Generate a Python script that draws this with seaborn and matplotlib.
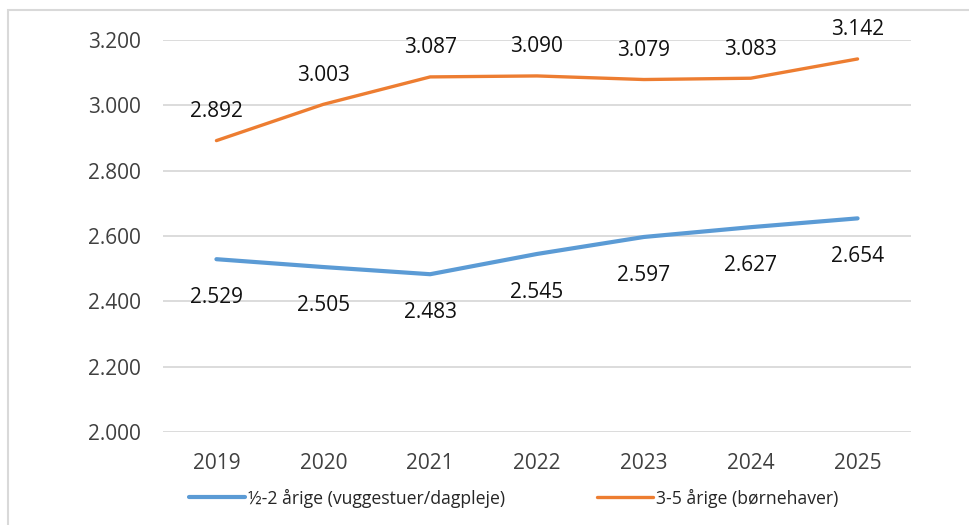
import matplotlib
matplotlib.use("Agg")
import matplotlib.pyplot as plt
import seaborn as sns
import pandas as pd
from matplotlib.patches import Rectangle

years = ["2019", "2020", "2021", "2022", "2023", "2024", "2025"]
small_children = [2529, 2505, 2483, 2545, 2597, 2627, 2654]
kindergarten = [2892, 3003, 3087, 3090, 3079, 3083, 3142]
series_names = ["½-2 årige (vuggestuer/dagpleje)", "3-5 årige (børnehaver)"]
y_ticks = [2000, 2200, 2400, 2600, 2800, 3000, 3200]

sns.set_theme(style="white")
plt.rcParams["font.family"] = ["Open Sans", "DejaVu Sans"]

df = pd.DataFrame({
    "year": years * 2,
    "x": list(range(len(years))) * 2,
    "value": small_children + kindergarten,
    "series": [series_names[0]] * len(years) + [series_names[1]] * len(years),
})

fig = plt.figure(figsize=(9.69, 5.25), dpi=100)
fig.patches.append(Rectangle((8 / 969, -0.01), 1.0, 1 - 10 / 525 + 0.01, transform=fig.transFigure,
                             fill=False, edgecolor="#d9d9d9", linewidth=1.5))
ax = fig.add_axes([163 / 969, 1 - 432 / 525, (911 - 163) / 969, (432 - 40) / 525])

palette = {series_names[0]: "#5b9bd5", series_names[1]: "#ed7d31"}
sns.lineplot(data=df[df.series == series_names[0]], x="x", y="value", color=palette[series_names[0]],
             linewidth=3.0, ax=ax, label=series_names[0], solid_capstyle="round")
sns.lineplot(data=df[df.series == series_names[1]], x="x", y="value", color=palette[series_names[1]],
             linewidth=2.4, ax=ax, label=series_names[1], solid_capstyle="round")

ax.set_xlim(-0.5, len(years) - 0.5)
ax.set_ylim(2000, 3200)
ax.set_yticks(y_ticks)
ax.set_yticklabels([f"{v // 1000}.{v % 1000:03d}" for v in y_ticks])
ax.set_xticks(range(len(years)))
ax.set_xticklabels(years)
ax.set_xlabel("")
ax.set_ylabel("")
for s in ax.spines.values():
    s.set_visible(False)
ax.grid(axis="y", color="#d9d9d9", linewidth=1.3)
ax.set_axisbelow(True)
ax.tick_params(axis="both", length=0, labelsize=15, colors="#404040")
ax.tick_params(axis="x", pad=15)
ax.tick_params(axis="y", pad=16)

def fmt(v):
    return f"{v // 1000}.{v % 1000:03d}"

for i, v in enumerate(kindergarten):
    ax.annotate(fmt(v), (i, v), xytext=(0, 21), textcoords="offset points", ha="center", va="center",
                fontsize=15, color="#111111", annotation_clip=False)
for i, v in enumerate(small_children):
    ax.annotate(fmt(v), (i, v), xytext=(0, -27.5), textcoords="offset points", ha="center", va="center",
                fontsize=15, color="#111111", annotation_clip=False)

leg = ax.legend(loc="center", bbox_to_anchor=((513.5 - 163) / 748, (1 - 498 / 525 - (1 - 432 / 525)) / ((432 - 40) / 525)),
                ncol=2, frameon=False, fontsize=12.7, handlelength=3.2, handletextpad=0.15,
                columnspacing=5.2, labelcolor="#262626")
for line in leg.get_lines():
    line.set_solid_capstyle("round")

fig.savefig("out.png", dpi=100)
